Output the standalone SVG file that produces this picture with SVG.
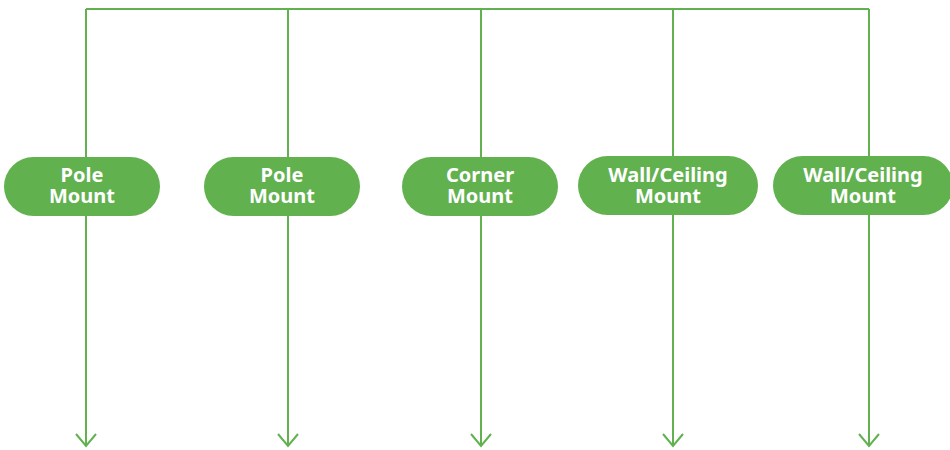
<svg xmlns="http://www.w3.org/2000/svg" width="950" height="450" viewBox="0 0 950 450">
<defs>
<marker id="arr" viewBox="0 0 16 24" refX="14" refY="12" markerWidth="16" markerHeight="24" markerUnits="userSpaceOnUse" orient="auto">
<path d="M2,2 L14,12 L2,22" fill="none" stroke="#62b14f" stroke-width="2"/>
</marker>
<style>
.ln{fill:none;stroke:#62b14f;stroke-width:2}
.pill{fill:#62b14f}
.t{font-family:"Noto Sans","Open Sans",sans-serif;font-weight:bold;font-size:20px;fill:#fff;text-anchor:middle}
</style>
</defs>
<rect width="950" height="450" fill="#fff"/>
<g id="connectors">
<path class="ln" d="M86,9 H869"/>
<path class="ln" d="M86,9 V446" marker-end="url(#arr)"/>
<path class="ln" d="M288,9 V446" marker-end="url(#arr)"/>
<path class="ln" d="M481,9 V446" marker-end="url(#arr)"/>
<path class="ln" d="M673,9 V446" marker-end="url(#arr)"/>
<path class="ln" d="M869,9 V446" marker-end="url(#arr)"/>
</g>
<g id="n1"><rect class="pill" x="4" y="157" width="156" height="59" rx="29.5"/><text class="t" x="82" y="182">Pole</text><text class="t" x="82" y="203">Mount</text></g>
<g id="n2"><rect class="pill" x="204" y="157" width="156" height="59" rx="29.5"/><text class="t" x="282" y="182">Pole</text><text class="t" x="282" y="203">Mount</text></g>
<g id="n3"><rect class="pill" x="402" y="157" width="156" height="59" rx="29.5"/><text class="t" x="480" y="182">Corner</text><text class="t" x="480" y="203">Mount</text></g>
<g id="n4"><rect class="pill" x="578" y="156" width="180" height="59" rx="29.5"/><text class="t" x="668" y="182">Wall/Ceiling</text><text class="t" x="668" y="203">Mount</text></g>
<g id="n5"><rect class="pill" x="773" y="156" width="180" height="59" rx="29.5"/><text class="t" x="863" y="182">Wall/Ceiling</text><text class="t" x="863" y="203">Mount</text></g>
</svg>
